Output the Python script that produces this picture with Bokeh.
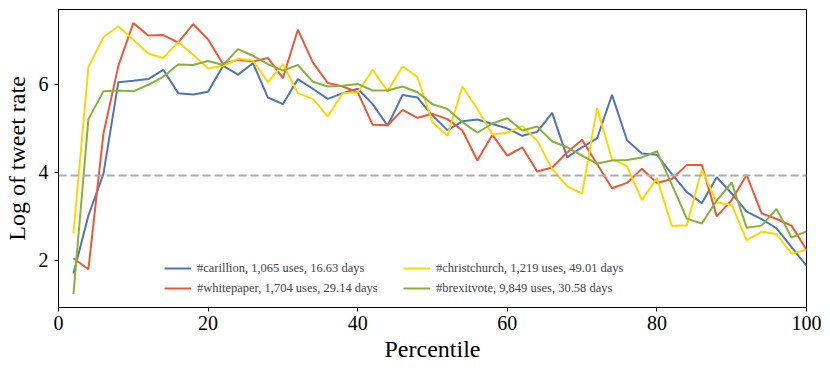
from bokeh.plotting import figure
from bokeh.models import Span, Legend, LegendItem, FixedTicker, Range1d
from bokeh.embed import file_html
from bokeh.resources import INLINE

percentile = list(range(2, 101, 2))

carillion = [1.70, 3.02, 3.96, 6.05, 6.08, 6.12, 6.33, 5.80, 5.77, 5.83,
             6.42, 6.22, 6.48, 5.70, 5.55, 6.12, 5.90, 5.67, 5.80, 5.90,
             5.55, 5.06, 5.76, 5.70, 5.29, 4.96, 5.16, 5.20, 5.10, 5.00,
             4.83, 4.92, 5.35, 4.34, 4.57, 4.77, 5.76, 4.73, 4.43, 4.40,
             3.96, 3.55, 3.30, 3.89, 3.52, 3.11, 2.94, 2.73, 2.30, 1.88]

whitepaper = [2.05, 1.80, 4.87, 6.42, 7.39, 7.11, 7.12, 6.95, 7.37, 7.02,
              6.46, 6.56, 6.52, 6.60, 6.14, 7.24, 6.50, 6.03, 5.95, 5.82,
              5.08, 5.07, 5.42, 5.24, 5.33, 5.21, 4.95, 4.27, 4.85, 4.38,
              4.57, 4.02, 4.11, 4.45, 4.74, 4.19, 3.64, 3.76, 4.08, 3.76,
              3.85, 4.17, 4.17, 3.00, 3.37, 3.94, 3.07, 2.94, 2.79, 2.24]

christchurch = [2.62, 6.39, 7.07, 7.32, 7.01, 6.70, 6.60, 6.96, 6.67, 6.36,
                6.42, 6.58, 6.54, 6.05, 6.46, 5.80, 5.67, 5.27, 5.80, 5.82,
                6.33, 5.84, 6.41, 6.16, 5.14, 4.83, 5.95, 5.44, 4.86, 4.90,
                5.05, 4.72, 4.08, 3.68, 3.52, 5.46, 4.30, 4.14, 3.37, 3.87,
                2.78, 2.80, 4.06, 3.32, 3.26, 2.46, 2.65, 2.60, 2.15, 2.24]

brexitvote = [1.24, 5.21, 5.84, 5.86, 5.84, 5.99, 6.17, 6.45, 6.44, 6.53,
              6.44, 6.80, 6.65, 6.46, 6.31, 6.44, 6.06, 5.95, 5.97, 6.01,
              5.86, 5.86, 5.95, 5.82, 5.55, 5.44, 5.14, 4.90, 5.11, 5.23,
              4.95, 5.04, 4.70, 4.57, 4.38, 4.20, 4.27, 4.28, 4.34, 4.48,
              3.72, 2.95, 2.84, 3.36, 3.77, 2.74, 2.79, 3.17, 2.52, 2.66]

labels = ["#carillion, 1,065 uses, 16.63 days",
          "#whitepaper, 1,704 uses, 29.14 days",
          "#christchurch, 1,219 uses, 49.01 days",
          "#brexitvote, 9,849 uses, 30.58 days"]
colors = ["#5075B5", "#E95A38", "#FFD700", "#88B13A"]
baseline = 3.93
x_ticks = [0, 20, 40, 60, 80, 100]
y_ticks = [2, 4, 6]

FONT = "Liberation Serif"

p = figure(width=830, height=374, output_backend="svg", toolbar_location=None,
           x_range=Range1d(0, 100), y_range=Range1d(0.93, 7.70),
           min_border_left=57, min_border_right=24, min_border_top=9,
           min_border_bottom=67)

p.xgrid.visible = False
p.ygrid.visible = False
p.outline_line_color = "black"
p.outline_line_width = 1
p.outline_line_alpha = 1

for ax in (p.xaxis[0], p.yaxis[0]):
    ax.axis_line_color = "black"
    ax.major_tick_out = 4
    ax.major_tick_in = 0
    ax.minor_tick_out = 0
    ax.minor_tick_in = 0
    ax.major_label_text_font = FONT
    ax.major_label_text_font_size = "20px"
    ax.major_label_text_color = "black"
    ax.axis_label_text_font = FONT
    ax.axis_label_text_font_size = "24px"
    ax.axis_label_text_font_style = "normal"
    ax.axis_label_text_color = "black"

p.xaxis.ticker = FixedTicker(ticks=x_ticks)
p.yaxis.ticker = FixedTicker(ticks=y_ticks)
p.xaxis.axis_label = "Percentile"
p.yaxis.axis_label = "Log of tweet rate"
p.xaxis.major_label_standoff = 4
p.yaxis.major_label_standoff = 6
p.xaxis.axis_label_standoff = 3
p.yaxis.axis_label_standoff = 6

p.add_layout(Span(location=baseline, dimension="width", line_color="#ABABAB",
                  line_width=2, line_dash="8 4"))

series = [carillion, whitepaper, christchurch, brexitvote]
renderers = []
for ys, c in zip(series, colors):
    r = p.line(percentile, ys, line_color=c, line_width=2)
    renderers.append(r)

legend_opts = dict(label_text_font=FONT, label_text_font_size="12.5px",
                   glyph_width=27, glyph_height=16, label_standoff=6,
                   spacing=4, padding=4, margin=0,
                   border_line_alpha=0, background_fill_alpha=0)
leg1 = Legend(items=[LegendItem(label=labels[i], renderers=[renderers[i]]) for i in (0, 1)],
              location=(102, 7), **legend_opts)
leg2 = Legend(items=[LegendItem(label=labels[i], renderers=[renderers[i]]) for i in (2, 3)],
              location=(341, 7), **legend_opts)
p.add_layout(leg1, "center")
p.add_layout(leg2, "center")

open("out.html", "w").write(file_html(p, INLINE))
